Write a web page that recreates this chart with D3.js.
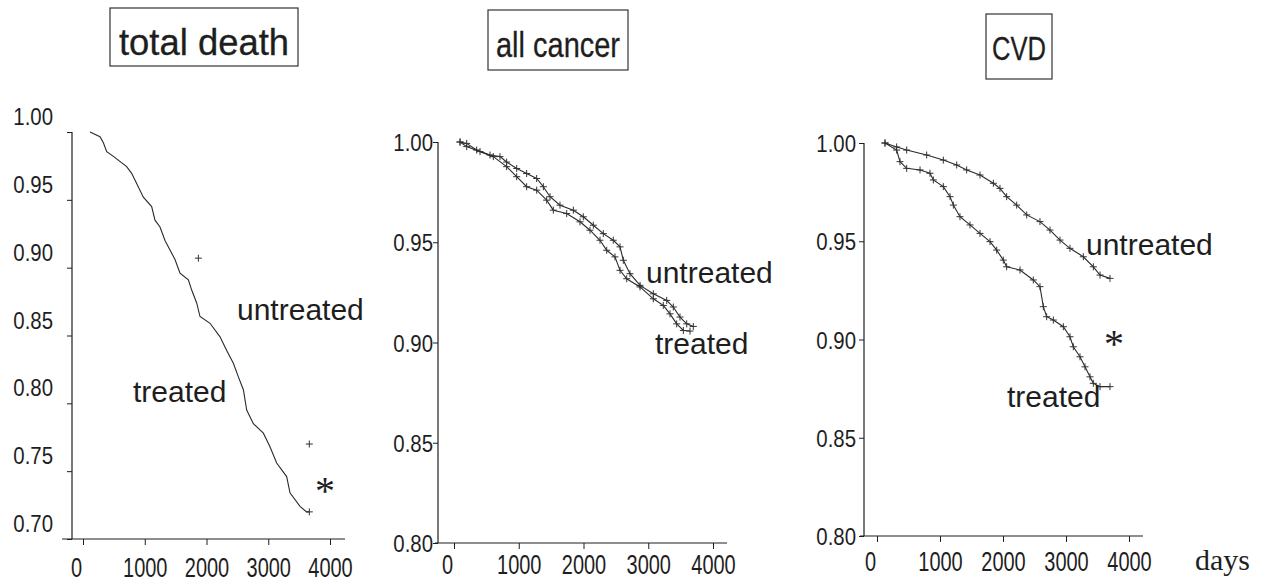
<!DOCTYPE html>
<html>
<head>
<meta charset="utf-8">
<script src="https://cdn.jsdelivr.net/npm/d3@7"></script>
<style>
body { margin: 0; background: #fff; }
svg { display: block; }
</style>
</head>
<body>
<div id="chart"></div>
<script>
// values
const xTicks = [0, 1000, 2000, 3000, 4000];
const titles = ["total death", "all cancer", "CVD"];
const deathYTicks = [0.70, 0.75, 0.80, 0.85, 0.90, 0.95, 1.00];
const cancerYTicks = [0.80, 0.85, 0.90, 0.95, 1.00];
const cvdYTicks = [0.80, 0.85, 0.90, 0.95, 1.00];

// total death: only the treated curve survives in the print, plus two untreated censor marks
const deathTreatedDays = [113, 275, 330, 384, 492, 707, 788, 869, 977, 1112, 1166, 1247, 1328, 1409, 1490, 1571, 1706, 1760, 1841, 1895, 2057, 2219, 2327, 2435, 2516, 2597, 2651, 2759, 2921, 3028, 3136, 3298, 3352, 3514, 3622, 3665];
const deathTreatedSurv = [1.000, 0.9965, 0.992, 0.9855, 0.982, 0.9745, 0.9695, 0.962, 0.952, 0.945, 0.935, 0.930, 0.920, 0.913, 0.906, 0.896, 0.891, 0.8835, 0.874, 0.864, 0.859, 0.849, 0.839, 0.8295, 0.8195, 0.810, 0.795, 0.785, 0.778, 0.768, 0.756, 0.746, 0.734, 0.724, 0.720, 0.720];
const deathUntreatedMarkDays = [1868, 3665];
const deathUntreatedMarkSurv = [0.907, 0.770];

const cancerUntreatedDays = [93, 196, 350, 556, 710, 813, 968, 1122, 1277, 1380, 1483, 1637, 1843, 1997, 2152, 2306, 2460, 2564, 2615, 2718, 2873, 3078, 3285, 3387, 3490, 3594, 3696];
const cancerUntreatedSurv = [1.000, 0.9993, 0.996, 0.9935, 0.9927, 0.990, 0.9868, 0.9843, 0.9818, 0.9777, 0.9727, 0.9685, 0.966, 0.9627, 0.9585, 0.9543, 0.951, 0.9477, 0.941, 0.9343, 0.9285, 0.9243, 0.921, 0.9177, 0.9127, 0.9093, 0.908];
const cancerTreatedDays = [93, 196, 402, 607, 813, 968, 1122, 1277, 1431, 1534, 1740, 1946, 2100, 2255, 2358, 2486, 2564, 2667, 2873, 3078, 3232, 3336, 3439, 3542, 3645];
const cancerTreatedSurv = [1.000, 0.9977, 0.9952, 0.9927, 0.9877, 0.9827, 0.9777, 0.976, 0.971, 0.966, 0.9643, 0.9602, 0.956, 0.951, 0.946, 0.9427, 0.936, 0.9318, 0.9277, 0.9218, 0.9185, 0.9143, 0.9093, 0.906, 0.9057];

const cvdUntreatedDays = [127, 312, 471, 788, 1053, 1265, 1423, 1635, 1847, 1952, 2058, 2217, 2376, 2587, 2746, 2905, 3063, 3275, 3434, 3540, 3698];
const cvdUntreatedSurv = [1.000, 0.998, 0.9964, 0.9939, 0.9913, 0.9888, 0.9863, 0.9837, 0.9795, 0.9769, 0.9727, 0.9684, 0.9634, 0.960, 0.9557, 0.9506, 0.9464, 0.9421, 0.937, 0.9328, 0.9311];
const cvdTreatedDays = [127, 312, 365, 471, 683, 841, 894, 1053, 1159, 1212, 1317, 1476, 1635, 1794, 1900, 2005, 2058, 2270, 2481, 2587, 2640, 2693, 2799, 2958, 3063, 3116, 3222, 3302, 3381, 3434, 3540, 3698];
const cvdTreatedSurv = [1.000, 0.9964, 0.9905, 0.9871, 0.9863, 0.9846, 0.9812, 0.9778, 0.9727, 0.9684, 0.9625, 0.9583, 0.954, 0.9498, 0.9455, 0.9404, 0.937, 0.9354, 0.9303, 0.9269, 0.9167, 0.9116, 0.9099, 0.9065, 0.9014, 0.8963, 0.8912, 0.8861, 0.881, 0.8777, 0.876, 0.876];

const zip = (ds, ss) => ds.map((d, i) => ({day: d, s: ss[i]}));

const panels = [
  {
    title: titles[0], box: [110, 8, 188, 58], titleBase: 55, titleSize: 36, titleLen: 170,
    xRange: [83, 330], yDomain: [0.70, 1.00], yRange: [539, 132], yTicks: deathYTicks,
    yAxisX: 72, xLine: [62, 345], yLabDx: -19, yLabDy: -16, xLabY: 38,
    curves: [{pts: zip(deathTreatedDays, deathTreatedSurv), marks: "end"}],
    extra: zip(deathUntreatedMarkDays, deathUntreatedMarkSurv),
    labels: [["untreated", 237, 320], ["treated", 133, 402]],
    star: [325, 485]
  },
  {
    title: titles[1], box: [488, 10, 140, 60], titleBase: 57, titleSize: 35, titleLen: 124,
    xRange: [454, 713], yDomain: [0.80, 1.00], yRange: [543, 142], yTicks: cancerYTicks,
    yAxisX: 438, xLine: [435, 727], yLabDx: -5, yLabDy: 0, xLabY: 31,
    curves: [{pts: zip(cancerUntreatedDays, cancerUntreatedSurv), marks: "all"},
             {pts: zip(cancerTreatedDays, cancerTreatedSurv), marks: "all"}],
    extra: [],
    labels: [["untreated", 646, 283], ["treated", 655, 354]],
    star: null
  },
  {
    title: titles[2], box: [986, 14, 66, 65], titleBase: 60, titleSize: 34, titleLen: 54,
    xRange: [877, 1129], yDomain: [0.80, 1.00], yRange: [536, 143], yTicks: cvdYTicks,
    yAxisX: 864, xLine: [860, 1143], yLabDx: -8, yLabDy: 0, xLabY: 35,
    curves: [{pts: zip(cvdUntreatedDays, cvdUntreatedSurv), marks: "all"},
             {pts: zip(cvdTreatedDays, cvdTreatedSurv), marks: "all"}],
    extra: [],
    labels: [["untreated", 1086, 255], ["treated", 1007, 407]],
    star: [1114, 338]
  }
];

const svg = d3.select("#chart").append("svg")
    .attr("width", 1266)
    .attr("height", 585);

const ink = "#1e1e1e";
const sans = "'Liberation Sans', Arial, sans-serif";
const cross = "M-3.5,0H3.5M0,-3.5V3.5";

panels.forEach(p => {
    const g = svg.append("g");
    const x = d3.scaleLinear().domain([0, 4000]).range(p.xRange);
    const y = d3.scaleLinear().domain(p.yDomain).range(p.yRange);

    // boxed title
    g.append("rect")
        .attr("x", p.box[0]).attr("y", p.box[1])
        .attr("width", p.box[2]).attr("height", p.box[3])
        .attr("fill", "none").attr("stroke", "#333").attr("stroke-width", 1.2);
    g.append("text")
        .attr("x", p.box[0] + p.box[2] / 2).attr("y", p.titleBase)
        .attr("text-anchor", "middle")
        .attr("textLength", p.titleLen).attr("lengthAdjust", "spacingAndGlyphs")
        .style("font", `${p.titleSize}px ${sans}`)
        .attr("fill", ink).attr("stroke", ink).attr("stroke-width", 0.3)
        .text(p.title);

    // axes
    const xAxisY = p.yRange[0];
    const xa = g.append("g")
        .attr("transform", `translate(0,${xAxisY})`)
        .call(d3.axisBottom(x).tickValues(xTicks).tickSize(6).tickFormat(d3.format("d")));
    xa.select(".domain").remove();
    xa.selectAll("line").attr("stroke", ink);
    xa.selectAll("text")
        .attr("y", 0).attr("dy", null)
        .attr("transform", d => `translate(${d === 0 ? -7 : 0},${p.xLabY}) scale(0.74,1)`)
        .attr("fill", ink)
        .style("font", `27px ${sans}`);

    const ya = g.append("g")
        .attr("transform", `translate(${p.yAxisX},0)`)
        .call(d3.axisLeft(y).tickValues(p.yTicks).tickSize(5).tickFormat(d3.format(".2f")));
    ya.select(".domain").remove();
    ya.selectAll("line").attr("stroke", ink);
    ya.selectAll("text")
        .attr("x", 0).attr("dy", "0.36em")
        .attr("transform", `translate(${p.yLabDx},${p.yLabDy}) scale(0.85,1)`)
        .attr("fill", ink)
        .style("font", `24px ${sans}`);

    g.append("line")
        .attr("x1", p.xLine[0]).attr("x2", p.xLine[1])
        .attr("y1", xAxisY).attr("y2", xAxisY)
        .attr("stroke", ink).attr("stroke-width", 1.2);
    g.append("line")
        .attr("x1", p.yAxisX).attr("x2", p.yAxisX)
        .attr("y1", p.yRange[1]).attr("y2", xAxisY)
        .attr("stroke", ink).attr("stroke-width", 1.2);

    // survival curves with censor marks
    const line = d3.line().x(d => x(d.day)).y(d => y(d.s));
    p.curves.forEach(c => {
        g.append("path")
            .datum(c.pts)
            .attr("fill", "none")
            .attr("stroke", "#2a2a2a")
            .attr("stroke-width", 1.1)
            .attr("d", line);
        const m = c.marks === "end" ? c.pts.slice(-1) : c.pts;
        g.selectAll(null).data(m).enter().append("path")
            .attr("transform", d => `translate(${x(d.day)},${y(d.s)})`)
            .attr("d", cross)
            .attr("stroke", "#333").attr("stroke-width", 1).attr("fill", "none");
    });
    g.selectAll(null).data(p.extra).enter().append("path")
        .attr("transform", d => `translate(${x(d.day)},${y(d.s)})`)
        .attr("d", cross)
        .attr("stroke", "#333").attr("stroke-width", 1).attr("fill", "none");

    // curve labels
    p.labels.forEach(l => {
        g.append("text")
            .attr("x", l[1]).attr("y", l[2])
            .style("font", `30px ${sans}`)
            .attr("fill", ink)
            .text(l[0]);
    });
    if (p.star) {
        g.append("text")
            .attr("x", p.star[0]).attr("y", p.star[1] + 19)
            .attr("text-anchor", "middle")
            .style("font", "40px 'Liberation Serif', 'Times New Roman', serif")
            .attr("fill", ink)
            .text("*");
    }
});

svg.append("text")
    .attr("x", 1195).attr("y", 570)
    .style("font", "30px 'Liberation Serif', 'Times New Roman', serif")
    .attr("fill", ink)
    .text("days");
</script>
</body>
</html>
